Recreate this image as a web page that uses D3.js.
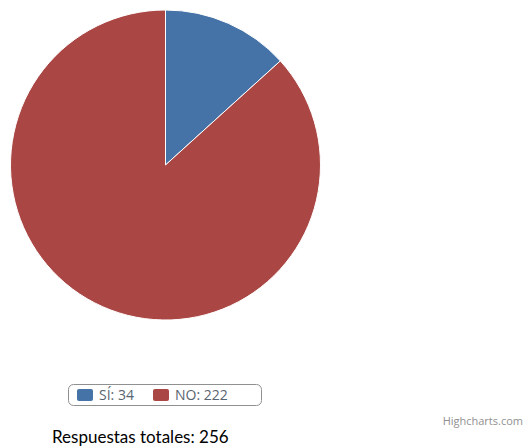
<!DOCTYPE html>
<html>
<head>
<meta charset="utf-8">
<script src="https://cdn.jsdelivr.net/npm/d3@7"></script>
<style>
  body { margin: 0; background: #fff; }
</style>
</head>
<body>
<div id="chart"></div>
<script>
// data
const categories = ["SÍ", "NO"];
const values = [34, 222];
const colors = ["#4572A7", "#AA4643"];

const width = 525, height = 448;

let svg = d3.select("#chart")
    .append("svg")
    .attr("width", width)
    .attr("height", height);

// pie
const cx = 165.5, cy = 165, radius = 155;

let pie = d3.pie().sort(null).value(d => d.value);
let arc = d3.arc().innerRadius(0).outerRadius(radius);

let data = categories.map((c, i) => ({ name: c, value: values[i] }));

let color = d3.scaleOrdinal().domain(categories).range(colors);

svg.append("g")
    .attr("transform", "translate(" + cx + "," + cy + ")")
    .selectAll("path")
    .data(pie(data))
    .enter()
    .append("path")
    .attr("d", arc)
    .attr("fill", d => color(d.data.name))
    .attr("stroke", "#fff")
    .attr("stroke-width", 1)
    .attr("stroke-linejoin", "round");

// legend box
let legend = svg.append("g");
legend.append("rect")
    .attr("x", 68.5).attr("y", 384.5)
    .attr("width", 193).attr("height", 21)
    .attr("rx", 5).attr("ry", 5)
    .attr("fill", "#fff")
    .attr("stroke", "#909090")
    .attr("stroke-width", 1);

const legendX = [77, 153];
let items = legend.selectAll("g.item")
    .data(data)
    .enter()
    .append("g")
    .attr("transform", (d, i) => "translate(" + legendX[i] + ",389)");

items.append("rect")
    .attr("width", 16).attr("height", 12)
    .attr("rx", 2).attr("ry", 2)
    .attr("fill", d => color(d.name));

items.append("text")
    .attr("x", 22).attr("y", 11)
    .style("font-family", "'Open Sans', sans-serif")
    .style("font-size", "14px")
    .style("fill", "#5a6470")
    .text(d => d.name + ": " + d.value);

// total
svg.append("text")
    .attr("x", 52).attr("y", 443)
    .style("font-family", "Lato, sans-serif")
    .style("font-size", "17px")
    .style("fill", "#000")
    .text("Respuestas totales: " + d3.sum(values));

// credits
svg.append("text")
    .attr("x", 523).attr("y", 425)
    .attr("text-anchor", "end")
    .style("font-family", "'Open Sans', sans-serif")
    .style("font-size", "11px")
    .style("fill", "#909090")
    .text("Highcharts.com");
</script>
</body>
</html>
